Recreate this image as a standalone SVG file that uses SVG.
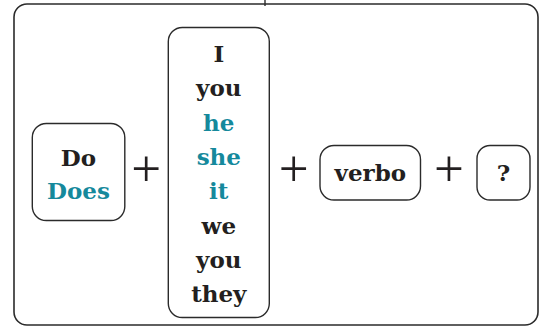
<svg xmlns="http://www.w3.org/2000/svg" width="539" height="327" viewBox="0 0 539 327">
<style>
.box{fill:#fff;stroke:#2b2b2b;stroke-width:1.4}
.frame{fill:#fff;stroke:#2b2b2b;stroke-width:1.6}
.t{font-family:"DejaVu Serif","Liberation Serif",serif;font-weight:bold;font-size:23px;fill:#231f20;text-anchor:middle}
.teal{fill:#15899c}
.plus{font-family:"Liberation Serif",serif;font-size:53px;fill:#231f20;text-anchor:middle}
</style>
<rect width="539" height="327" fill="#fff"/>
<g id="frame">
<rect class="frame" x="14" y="4" width="524" height="321" rx="13"/>
<line x1="265" y1="0" x2="265" y2="6" stroke="#2b2b2b" stroke-width="1.4"/>
</g>
<g id="connectors">
<text class="plus" x="146.3" y="185.7">+</text>
<text class="plus" x="293.8" y="185.7">+</text>
<text class="plus" x="449" y="186.2">+</text>
</g>
<g id="do-does">
<rect class="box" x="32.3" y="123.5" width="92.5" height="97" rx="14"/>
<text class="t" x="78.5" y="165.5">Do</text>
<text class="t teal" x="78.5" y="198.5">Does</text>
</g>
<g id="pronouns">
<rect class="box" x="168.3" y="27.5" width="101" height="290" rx="14"/>
<text class="t" x="218.8" y="62">I</text>
<text class="t" x="218.8" y="96">you</text>
<text class="t teal" x="218.8" y="130.5">he</text>
<text class="t teal" x="218.8" y="165">she</text>
<text class="t teal" x="218.8" y="199">it</text>
<text class="t" x="218.8" y="233.5">we</text>
<text class="t" x="218.8" y="268">you</text>
<text class="t" x="218.8" y="302">they</text>
</g>
<g id="verbo">
<rect class="box" x="320" y="145.5" width="100.5" height="54.5" rx="14"/>
<text class="t" x="370.3" y="180.5">verbo</text>
</g>
<g id="question">
<rect class="box" x="477" y="145.5" width="53" height="54.5" rx="13"/>
<text class="t" x="503.5" y="181">?</text>
</g>
</svg>
